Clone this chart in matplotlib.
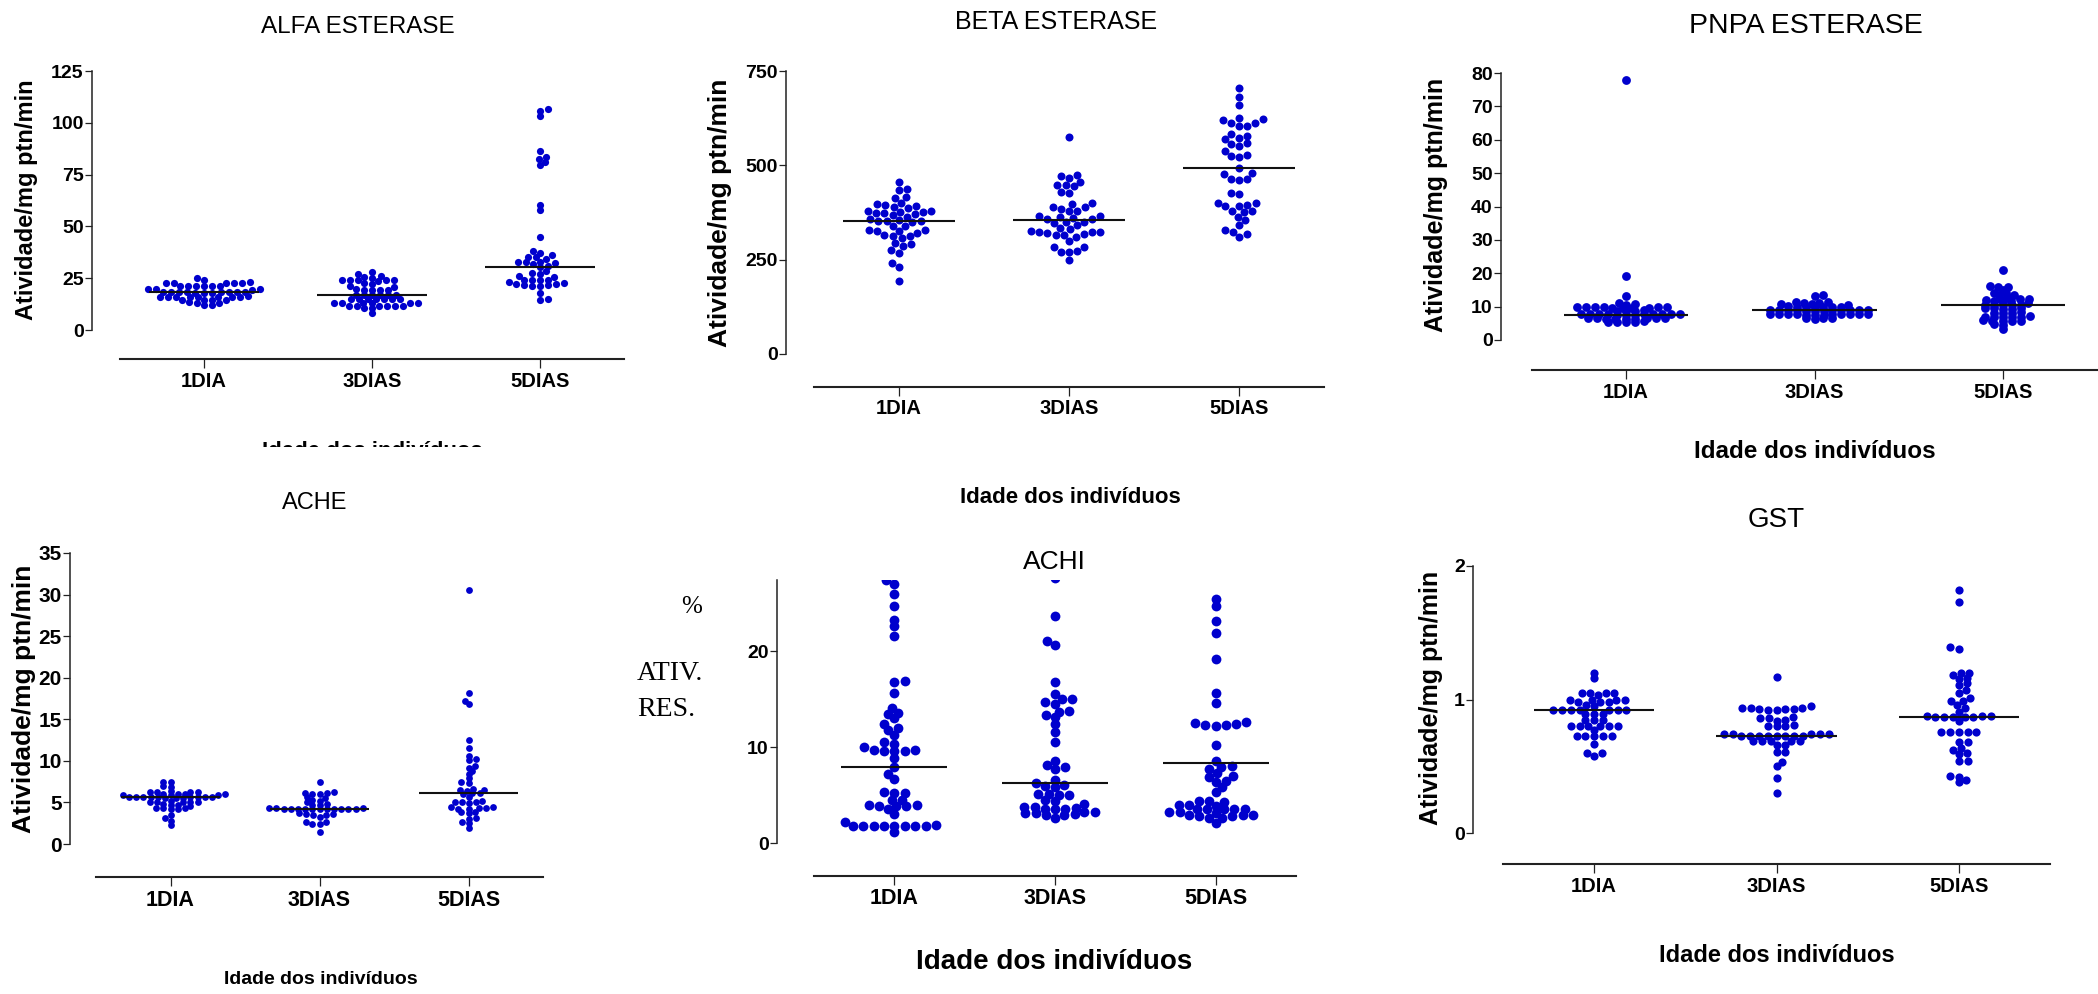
import numpy as np
import matplotlib
matplotlib.use("Agg")
import matplotlib.pyplot as plt
from matplotlib.patches import Rectangle

W, H = 2098, 994
DOT = '#0000cd'
groups = ['1DIA', '3DIAS', '5DIAS']

# ---- data ----
alfa_1dia = [25.3, 24.1, 23.0, 22.9, 22.8, 22.8, 22.7, 22.6, 21.3, 21.2, 21.2, 21.1, 21.1, 21.0, 19.7,
             19.6, 19.6, 19.5, 18.4, 18.4, 18.3, 18.3, 18.2, 18.2, 18.1, 18.1, 18.0, 18.0, 17.9, 16.2,
             16.1, 16.1, 16.0, 16.0, 15.9, 15.9, 15.8, 15.8, 14.6, 14.5, 14.5, 14.4, 13.3, 13.2, 13.1,
             12.1, 12.0]
alfa_3dias = [27.8, 27.2, 26.0, 25.6, 25.1, 24.2, 24.1, 24.0, 24.0, 23.9, 23.8, 22.6, 22.4, 21.1, 20.9,
              19.6, 19.5, 19.5, 19.4, 19.4, 17.1, 17.0, 17.0, 16.9, 16.9, 16.8, 15.1, 15.0, 15.0, 14.9,
              14.9, 14.8, 14.8, 13.1, 13.0, 13.0, 12.9, 12.9, 12.8, 11.7, 11.6, 11.6, 11.5, 11.5, 11.4,
              10.6, 10.4, 8.0]
alfa_5dias = [106.5, 105.7, 103.1, 86.6, 83.7, 82.7, 81.3, 79.6, 60.3, 57.9, 45.0, 38.3, 37.0, 36.0,
              35.4, 35.0, 34.4, 33.0, 32.7, 32.7, 32.2, 31.7, 30.9, 30.6, 28.6, 27.7, 27.0, 26.0, 25.7,
              24.3, 24.3, 24.1, 24.0, 23.2, 22.5, 22.2, 22.2, 21.6, 21.6, 21.2, 21.2, 17.7, 15.0, 14.5]
alfa_line = [18.3, 17.0, 30.6]

beta_1dia = [455, 438, 434, 416, 414, 400, 397, 394, 392, 389, 386, 379, 379, 377, 377, 375, 373, 370,
             369, 364, 359, 356, 353, 353, 353, 349, 340, 340, 329, 329, 326, 326, 320, 316, 313, 313,
             307, 294, 291, 285, 276, 267, 241, 230, 194]
beta_3dias = [576, 475, 472, 466, 457, 448, 447, 444, 430, 428, 401, 398, 390, 389, 384, 380, 379, 366,
              366, 364, 360, 357, 357, 349, 349, 347, 341, 334, 331, 326, 324, 323, 322, 320, 318, 316,
              316, 311, 300, 283, 283, 272, 270, 269, 248]
beta_5dias = [706, 680, 659, 625, 622, 619, 613, 611, 605, 605, 582, 578, 573, 569, 558, 556, 550, 539,
              528, 525, 523, 492, 479, 476, 463, 463, 461, 428, 423, 400, 400, 396, 393, 391, 380, 379,
              377, 364, 356, 343, 329, 323, 318, 310]
beta_line = [353, 356, 492]

pnpa_1dia = [78.0, 19.2, 13.2, 11.2, 10.8, 10.6, 10.0, 9.9, 9.9, 9.8, 9.8, 9.8, 9.7, 9.7, 9.6, 9.6,
             8.9, 8.8, 8.8, 8.7, 7.9, 7.9, 7.8, 7.8, 7.8, 7.8, 7.7, 7.7, 7.7, 7.6, 7.6, 7.6,
             6.6, 6.6, 6.5, 6.5, 6.5, 6.4, 6.4, 6.4, 6.3, 5.6, 5.5, 5.5, 5.4, 5.3]
pnpa_3dias = [13.6, 13.3, 11.5, 11.4, 11.2, 11.2, 10.7, 10.7, 10.6, 10.1, 10.0, 10.0, 10.0, 9.9, 9.9,
              9.8, 9.1, 9.1, 9.0, 9.0, 9.0, 9.0, 8.9, 8.9, 8.9, 8.8, 8.8, 8.8, 7.9, 7.9, 7.8, 7.8,
              7.8, 7.8, 7.7, 7.7, 7.7, 7.6, 7.6, 7.6, 6.6, 6.5, 6.5, 6.4]
pnpa_5dias = [21.1, 16.2, 15.8, 15.8, 15.0, 14.2, 14.0, 13.6, 13.4, 13.0, 12.4, 12.2, 12.2, 11.8, 12.0,
              11.5, 11.0, 11.6, 10.6, 10.5, 10.5, 10.4, 10.4, 9.6, 9.5, 9.5, 9.4, 9.4, 8.3, 8.2, 8.2,
              8.1, 7.1, 7.0, 7.0, 7.0, 6.9, 6.9, 5.9, 5.8, 5.8, 5.7, 5.7, 4.9, 4.6, 3.3]
pnpa_line = [7.5, 8.9, 10.4]

ache_1dia = [7.5, 7.4, 7.0, 6.9, 6.4, 6.3, 6.3, 6.3, 6.2, 6.0, 6.0, 6.0, 6.0, 5.9, 5.9, 5.9, 5.7, 5.7,
             5.7, 5.6, 5.6, 5.6, 5.6, 5.6, 5.6, 5.5, 5.5, 5.5, 5.2, 5.1, 5.1, 5.1, 5.0, 5.0, 4.8, 4.7,
             4.7, 4.6, 4.3, 4.3, 4.3, 4.2, 4.2, 3.5, 3.1, 2.8, 2.3]
ache_3dias = [7.4, 6.2, 6.1, 6.1, 6.0, 6.0, 5.6, 5.5, 5.3, 5.2, 5.0, 4.8, 4.7, 4.7, 4.3, 4.3, 4.3, 4.2,
              4.2, 4.2, 4.2, 4.2, 4.2, 4.2, 4.2, 4.2, 4.2, 4.2, 3.7, 3.6, 3.6, 3.5, 3.5, 3.3, 2.6, 2.6,
              2.4, 2.4, 1.5]
ache_5dias = [30.6, 18.2, 17.2, 16.8, 12.5, 11.5, 10.6, 10.2, 10.1, 9.4, 9.2, 8.8, 8.4, 7.9, 7.4, 7.3,
              6.6, 6.5, 6.5, 6.4, 6.1, 6.1, 6.0, 5.7, 5.2, 5.1, 5.1, 5.0, 4.9, 4.5, 4.4, 4.3, 4.3, 4.2,
              4.2, 3.9, 3.8, 3.7, 3.1, 3.0, 2.7, 2.5, 1.9]
ache_line = [5.64, 4.24, 6.08]

achi_1dia = [27.4, 27.0, 26.0, 24.7, 23.3, 22.6, 21.6, 16.9, 16.8, 15.7, 14.1, 13.6, 13.5, 13.0, 12.4,
             12.0, 11.8, 11.3, 10.5, 10.3, 10.0, 9.7, 9.7, 9.6, 9.6, 9.6, 8.9, 7.9, 7.2, 6.7, 5.3, 5.2,
             5.2, 4.5, 4.5, 4.0, 4.0, 3.9, 3.9, 3.9, 3.5, 3.0, 2.2, 1.9, 1.8, 1.8, 1.8, 1.8, 1.8, 1.8,
             1.8, 1.8, 1.1]
achi_3dias = [27.7, 23.7, 21.1, 20.7, 16.8, 15.6, 15.0, 15.0, 14.7, 14.5, 13.8, 13.7, 13.4, 13.1, 12.4,
              11.6, 10.5, 8.6, 8.1, 7.9, 7.7, 6.6, 6.3, 6.1, 6.0, 5.8, 5.1, 5.1, 5.0, 5.0, 4.5, 4.4,
              4.1, 3.8, 3.8, 3.7, 3.6, 3.6, 3.5, 3.2, 3.2, 3.1, 3.1, 3.0, 2.9, 2.9, 2.6]
achi_5dias = [25.5, 24.7, 23.2, 21.9, 19.2, 15.7, 14.6, 12.6, 12.5, 12.4, 12.3, 12.3, 12.2, 10.2, 8.6,
              8.0, 7.9, 7.7, 7.3, 7.0, 6.9, 6.5, 6.4, 5.8, 5.3, 4.4, 4.4, 4.3, 4.0, 4.0, 3.9, 3.6, 3.6,
              3.6, 3.5, 3.5, 3.2, 3.2, 3.1, 2.9, 2.9, 2.9, 2.8, 2.8, 2.6, 2.6, 2.1]
achi_line = [7.9, 6.3, 8.3]

gst_1dia = [1.20, 1.16, 1.05, 1.05, 1.05, 1.05, 1.03, 1.00, 1.00, 1.00, 1.00, 0.98, 0.98, 0.98, 0.96,
            0.95, 0.92, 0.92, 0.92, 0.92, 0.92, 0.92, 0.92, 0.89, 0.89, 0.89, 0.85, 0.85, 0.85, 0.80,
            0.80, 0.80, 0.80, 0.80, 0.80, 0.77, 0.73, 0.73, 0.73, 0.73, 0.73, 0.67, 0.60, 0.60, 0.58]
gst_3dias = [1.17, 0.95, 0.94, 0.94, 0.94, 0.93, 0.93, 0.93, 0.92, 0.92, 0.87, 0.86, 0.86, 0.85, 0.84,
             0.81, 0.80, 0.80, 0.80, 0.74, 0.74, 0.74, 0.74, 0.74, 0.73, 0.73, 0.73, 0.73, 0.73, 0.73,
             0.73, 0.73, 0.69, 0.69, 0.69, 0.69, 0.69, 0.66, 0.66, 0.61, 0.61, 0.53, 0.50, 0.41, 0.30]
gst_5dias = [1.82, 1.73, 1.39, 1.38, 1.20, 1.20, 1.18, 1.16, 1.15, 1.12, 1.11, 1.07, 1.05, 1.01, 0.99,
             0.99, 0.96, 0.94, 0.91, 0.88, 0.88, 0.88, 0.87, 0.87, 0.87, 0.87, 0.87, 0.84, 0.76, 0.76,
             0.76, 0.76, 0.76, 0.68, 0.68, 0.64, 0.62, 0.60, 0.59, 0.54, 0.54, 0.43, 0.42, 0.40, 0.38]
gst_line = [0.92, 0.73, 0.87]

plt.rcParams['font.family'] = ['Liberation Sans', 'DejaVu Sans']
fig = plt.figure(figsize=(W / 100, H / 100), dpi=100)


def ftext(x, y, s, **kw):
    kw.setdefault('ha', 'center')
    kw.setdefault('va', 'center')
    return fig.text(x / W, 1 - y / H, s, **kw)


def swarm(ax, vals, center, d, k):
    # beeswarm in pixel space; k < 1 lets neighbouring rows overlap a bit vertically
    vals = np.asarray(vals, float)
    ys = ax.transData.transform(np.column_stack([np.zeros_like(vals), vals]))[:, 1] / k
    px_unit = ax.transData.transform((1, 0))[0] - ax.transData.transform((0, 0))[0]
    offs = np.zeros(len(vals))
    placed = []
    flip = 1
    for i in np.argsort(vals):
        y = ys[i]
        near = [(px, py) for px, py in placed if abs(py - y) < d]
        cands = [0.0]
        for px, py in near:
            dx = np.sqrt(d * d - (py - y) ** 2)
            cands += [px + dx, px - dx]
        cands.sort(key=lambda c: (round(abs(c), 3), c * flip))
        for c in cands:
            if all((c - px) ** 2 + (y - py) ** 2 >= d * d - 1e-6 for px, py in near):
                break
        placed.append((c, y))
        offs[i] = c
        flip = -flip
    return center + offs / px_unit, vals


def panel(box, ylim, yticks, series, lines, dot, gap, k, ytfs=14, xtfs=14.5):
    xl, xr, ytop, ybot, xsp, ysp = box
    ax = fig.add_axes([xl / W, 1 - ybot / H, (xr - xl) / W, (ybot - ytop) / H])
    ax.patch.set_visible(False)
    ax.set_xlim(-0.5, 2.5)
    ax.set_ylim(*ylim)
    ax.spines['top'].set_visible(False)
    ax.spines['right'].set_visible(False)
    ax.spines['bottom'].set_position(('outward', (xsp - ybot) * 0.72))
    ax.spines['left'].set_position(('outward', (xl - ysp) * 0.72))
    ax.spines['bottom'].set_linewidth(1.5)
    ax.spines['left'].set_linewidth(1.1)
    ax.spines['bottom'].set_color('#222222')
    ax.spines['left'].set_color('#222222')
    ax.set_yticks(yticks, labels=[str(t) for t in yticks], fontweight='bold', fontsize=ytfs)
    ax.set_xticks([0, 1, 2], labels=groups, fontweight='bold', fontsize=xtfs)
    ax.tick_params(axis='y', length=5, width=0.9, pad=1, color='#222222')
    ax.tick_params(axis='x', length=6.5, width=0.9, pad=2.5, color='#222222')
    for i, vals in enumerate(series):
        xs, ys = swarm(ax, vals, i, gap, k)
        ax.plot(xs, ys, 'o', ms=dot * 0.72, color=DOT, mew=0, zorder=2)
        ax.hlines(lines[i], i - 0.33, i + 0.33, color='#111111', lw=1.5, zorder=3)
    return ax


YLAB = 'Atividade/mg ptn/min'
XLAB = 'Idade dos indivíduos'

# ALFA ESTERASE
panel((120, 624, 71, 330, 359, 92), (0, 125), [0, 25, 50, 75, 100, 125],
      [alfa_1dia, alfa_3dias, alfa_5dias], alfa_line, 7.2, 8.0, 0.6)
ftext(358, 27, 'ALFA ESTERASE', fontsize=17.5)
ftext(27, 200, YLAB, rotation=90, fontweight='bold', fontsize=17)
ftext(372, 457, XLAB, va='baseline', fontweight='bold', fontsize=16, zorder=1)
fig.add_artist(Rectangle((150 / W, 1 - 480 / H), 450 / W, 33 / H, transform=fig.transFigure,
                         facecolor='white', edgecolor='none', zorder=5))

# BETA ESTERASE
panel((814, 1324, 71, 354, 387, 786), (0, 750), [0, 250, 500, 750],
      [beta_1dia, beta_3dias, beta_5dias], beta_line, 8, 8.4, 0.9)
ftext(1056, 22, 'BETA ESTERASE', fontsize=18)
ftext(720, 213, YLAB, rotation=90, fontweight='bold', fontsize=19)
ftext(1070, 498, XLAB, fontweight='bold', fontsize=16)

# PNPA ESTERASE
panel((1532, 2097, 73, 340, 370, 1501), (0, 80), list(range(0, 81, 10)),
      [pnpa_1dia, pnpa_3dias, pnpa_5dias], pnpa_line, 8.8, 9.0, 0.35)
ftext(1806, 26, 'PNPA ESTERASE', fontsize=20.5)
ftext(1436, 205, YLAB, rotation=90, fontweight='bold', fontsize=18)
ftext(1815, 451, XLAB, fontweight='bold', fontsize=17.5)

# ACHE
panel((96, 543, 553, 844, 877, 70), (0, 35), list(range(0, 36, 5)),
      [ache_1dia, ache_3dias, ache_5dias], ache_line, 6.8, 7.2, 0.55, ytfs=15, xtfs=15.5)
ftext(315, 503, 'ACHE', fontsize=17)
ftext(24, 699, YLAB, rotation=90, fontweight='bold', fontsize=19)
ftext(321, 980, XLAB, fontweight='bold', fontsize=14)

# ACHI
panel((814, 1296, 580, 843, 876, 777), (0, 27.45), [0, 10, 20],
      [achi_1dia, achi_3dias, achi_5dias], achi_line, 9.8, 10.4, 0.6, xtfs=15.5)
ftext(1054, 562, 'ACHI', fontsize=19)
ftext(692, 607, '%', family=['Liberation Serif', 'DejaVu Serif'], fontsize=18)
ftext(637, 673, 'ATIV.', ha='left', family=['Liberation Serif', 'DejaVu Serif'], fontsize=20)
ftext(637, 710, 'RES.', ha='left', family=['Liberation Serif', 'DejaVu Serif'], fontsize=20)
ftext(1054, 962, XLAB, fontweight='bold', fontsize=20)

# GST
panel((1503, 2050, 566, 833, 864, 1473), (0, 2), [0, 1, 2],
      [gst_1dia, gst_3dias, gst_5dias], gst_line, 8.2, 8.8, 0.6)
ftext(1776, 520, 'GST', fontsize=20)
ftext(1431, 698, YLAB, rotation=90, fontweight='bold', fontsize=18)
ftext(1777, 955, XLAB, fontweight='bold', fontsize=17)

fig.savefig('out.png', dpi=100, facecolor='white')
